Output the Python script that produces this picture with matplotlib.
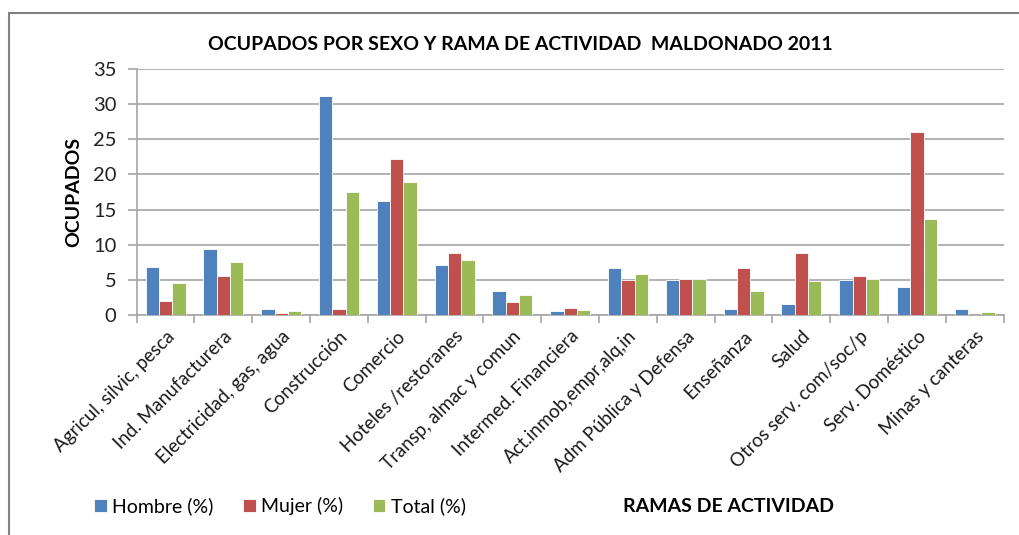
import numpy as np
import matplotlib.pyplot as plt
from matplotlib.patches import Rectangle

ramas = ["Agricul, silvic, pesca", "Ind. Manufacturera", "Electricidad, gas, agua",
         "Construcción", "Comercio", "Hoteles /restoranes", "Transp, almac y comun",
         "Intermed. Financiera", "Act.inmob,empr,alq,in", "Adm Pública y Defensa",
         "Enseñanza", "Salud", "Otros serv. com/soc/p", "Serv. Doméstico",
         "Minas y canteras"]
hombre = [6.8, 9.4, 0.8, 31.1, 16.3, 7.1, 3.5, 0.6, 6.7, 5.0, 0.8, 1.6, 5.0, 4.0, 0.8]
mujer = [2.0, 5.6, 0.3, 0.8, 22.2, 8.8, 1.8, 0.95, 5.0, 5.2, 6.7, 8.9, 5.5, 26.0, 0.0]
total = [4.5, 7.6, 0.6, 17.5, 18.9, 7.8, 2.8, 0.7, 5.9, 5.2, 3.5, 4.9, 5.2, 13.7, 0.4]

plt.rcParams['font.family'] = ['Lato', 'DejaVu Sans']

fig = plt.figure(figsize=(10.2, 5.35), dpi=100)
ax = fig.add_axes([0.134, 0.411, 0.850, 0.460])

# chart border
fig.patches.append(Rectangle((9 / 1020, -0.1), 1.2, 1 - 13 / 535 + 0.1,
                             transform=fig.transFigure, fill=False,
                             edgecolor="#808080", linewidth=1.5))

x = np.arange(len(ramas))
w = 0.23
ax.bar(x - w, hombre, w, color="#4F81BD", edgecolor="white", linewidth=0.6,
       label="Hombre (%)", zorder=3)
ax.bar(x, mujer, w, color="#C0504D", edgecolor="white", linewidth=0.6,
       label="Mujer (%)", zorder=3)
ax.bar(x + w, total, w, color="#9BBB59", edgecolor="white", linewidth=0.6,
       label="Total (%)", zorder=3)

ax.set_xlim(-0.5, len(ramas) - 0.5)
ax.set_ylim(0, 35)
ax.set_yticks(range(0, 36, 5))
ax.yaxis.grid(True, color="#A6A6A6", linewidth=1.2)
ax.set_axisbelow(True)

for s in ["top", "right"]:
    ax.spines[s].set_visible(False)
for s in ["left", "bottom"]:
    ax.spines[s].set_color("#A6A6A6")
    ax.spines[s].set_linewidth(1.2)

ax.set_xticks(np.arange(-0.5, len(ramas), 1), minor=True)
ax.set_xticks(x)
ax.set_xticklabels(ramas, rotation=45, ha="right", rotation_mode="anchor",
                   fontsize=13.5, color="#1a1a1a")
ax.tick_params(axis="x", which="major", length=0, pad=9)
ax.tick_params(axis="x", which="minor", length=6, color="#A6A6A6", width=1.2)
ax.tick_params(axis="y", length=6.5, color="#A6A6A6", width=1.2, labelsize=14.5,
               labelcolor="#222222", pad=8)

ax.set_ylabel("OCUPADOS", fontsize=14, fontweight="bold", labelpad=8)

fig.text(0.51, 0.916, "OCUPADOS POR SEXO Y RAMA DE ACTIVIDAD  MALDONADO 2011",
         ha="center", va="center", fontsize=14, fontweight="bold")
fig.text(0.714, 0.054, "RAMAS DE ACTIVIDAD", ha="center", va="center",
         fontsize=14, fontweight="bold")

fig.legend(loc="center left", bbox_to_anchor=(0.075, 0.054), ncol=3, frameon=False,
           fontsize=14, handlelength=0.65, handleheight=0.65, handletextpad=0.3,
           columnspacing=1.5)

fig.savefig("out.png", dpi=100)
